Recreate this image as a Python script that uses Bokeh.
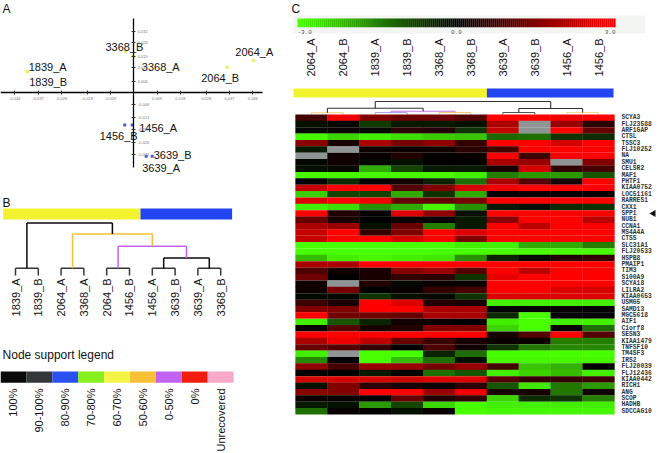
import numpy as np
from math import pi
from bokeh.plotting import figure
from bokeh.layouts import row, column
from bokeh.models import Range1d, LinearAxis, FixedTicker, ColumnDataSource, LinearColorMapper, Label
from bokeh.transform import transform
from bokeh.core.properties import value
from bokeh.embed import file_html
from bokeh.resources import INLINE

FONT = "Liberation Sans"
MONO = "Liberation Mono"

# ---------------- Panel A : PCA scatter ----------------
pca_labels = ["1839_A", "1839_B", "3368_B", "3368_A", "2064_B", "2064_A", "1456_B", "1456_A", "3639_A", "3639_B"]
pca_x = [-0.0412, -0.0410, -0.0032, 0.0000, 0.0361, 0.0462, -0.0035, -0.0006, 0.0048, 0.0071]
pca_y = [0.0111, 0.0109, 0.0216, 0.0190, 0.0133, 0.0168, -0.0168, -0.0168, -0.0330, -0.0330]
pca_group = ["yellow", "yellow", "yellow", "yellow", "yellow", "yellow", "blue", "blue", "blue", "blue"]
pca_xticks = [-0.046, -0.037, -0.028, -0.018, -0.009, 0.009, 0.018, 0.028, 0.037, 0.046]
pca_yticks = [-0.032, -0.026, -0.019, -0.013, -0.006, 0.006, 0.013, 0.019, 0.026, 0.032]

# ---------------- Panel B : sample tree ----------------
tree_leaves = ["1839_A", "1839_B", "2064_A", "3368_A", "2064_B", "1456_B", "1456_A", "3639_B", "3639_A", "3368_B"]
tree_merges = [(0, 1), (2, 3), (4, 5), (6, 7), (8, 9), (13, 14), (12, 15), (11, 16), (10, 17)]
tree_heights = [1.0, 1.0, 1.0, 1.0, 1.0, 2.4, 4.0, 5.7, 7.2]
tree_support = ["90-100%", "90-100%", "90-100%", "90-100%", "90-100%", "100%", "0-50%", "50-60%", "100%"]
group_names = ["yellow", "blue"]
group_counts = [6, 4]

support_labels = ["100%", "90-100%", "80-90%", "70-80%", "60-70%", "50-60%", "0-50%", "0%", "Unrecovered"]
support_colors = ["#0a0a0a", "#343838", "#2a50f2", "#86f01c", "#f4f444", "#f8c034", "#c262f0", "#f01c0c", "#f8a8c8"]

# ---------------- Panel C : heatmap ----------------
heat_samples = ["2064_A", "2064_B", "1839_A", "1839_B", "3368_A", "3368_B", "3639_A", "3639_B", "1456_A", "1456_B"]
genes = ["SCYA3", "FLJ23588", "ARF1GAP", "CTSL", "TSSC3", "FLJ10252", "NA", "SMU1", "CELSR2", "MAF1",
         "PHTF1", "KIAA0752", "LOC51161", "RARRES1", "CXX1", "SPP1", "NUB1", "CCNA1", "MS4A4A", "CTSS",
         "SLC31A1", "FLJ20533", "HSPB8", "PMAIP1", "TIM3", "S100A9", "SCYA18", "LILRA2", "KIAA0653", "USMG5",
         "SAMD13", "MGC5618", "AIF1", "C1orf8", "SESN3", "KIAA1479", "TNFSF10", "TM4SF3", "IRS2", "FLJ20039",
         "FLJ12436", "KIAA0442", "RICH1", "ANG", "SCOP", "HADHB", "SDCCAG10"]
nan = float("nan")
expr_2064_A = [0.8, -0.2, -0.1, -2.9, 1.6, -0.3, nan, -0.1, -0.2, -2.9, 0.0, 2.3, -2.4, 2.6, -2.8, 3.0, 1.2, 2.0, 2.3, 2.3,
               -3.0, -3.0, -2.2, 2.0, 0.9, 1.3, 0.2, 0.2, -0.1, 0.7, 1.5, 3.0, -2.8, 0.0, 3.0, 2.0, 1.2, -2.8, -1.6, 1.7,
               0.0, 2.5, -0.2, 1.6, 0.1, -0.3, -1.3]
expr_2064_B = [2.8, -0.1, 0.1, -2.5, 0.3, nan, 0.2, 0.2, -0.1, -2.9, -0.5, 3.0, -0.8, 3.0, -2.6, 0.4, 0.3, 1.8, 3.0, 3.0,
               -3.0, -3.0, -2.8, 2.0, 0.2, 0.0, nan, 1.4, -0.1, 0.3, 1.5, 1.3, -1.0, 1.0, 3.0, 2.8, 1.0, nan, 0.0, 0.8,
               0.0, 2.5, 1.5, 1.5, 0.1, -0.2, 0.1]
expr_1839_A = [1.5, -0.7, -0.1, -2.8, 2.0, 0.2, 0.1, -0.1, -2.0, -2.9, 0.0, 3.0, -0.8, 2.8, -1.7, 0.0, 0.0, -0.2, 0.6, 3.0,
               -3.0, -3.0, -2.9, 3.0, 0.3, 0.3, 0.4, 0.0, -0.6, 3.0, 3.0, 1.3, -0.4, 0.3, 3.0, 2.2, 0.6, -3.0, -3.0, 1.8,
               -0.3, 2.5, 0.5, 3.0, 0.0, -1.8, 0.0]
expr_1839_B = [1.3, -0.3, 0.5, -2.6, 1.4, 0.1, 0.4, -0.2, -0.8, -2.9, 0.2, 1.0, -2.0, 1.2, -2.0, 2.6, 0.1, 1.2, 1.5, 2.5,
               -3.0, -3.0, -2.8, 3.0, 1.5, 0.6, -0.1, 0.1, -0.2, 2.6, 3.0, 1.2, 0.2, 0.4, 3.0, 1.2, 0.0, -3.0, -2.2, 1.8,
               0.0, 2.4, 0.3, 3.0, 1.2, -0.8, -0.2]
expr_3368_A = [1.3, -0.3, 0.4, -2.4, 1.7, 0.2, 0.0, 0.0, -0.3, -2.9, -0.4, 1.5, -0.6, 1.2, -2.9, 1.7, 0.1, -1.5, 3.0, 3.0,
               -3.0, -3.0, -2.7, 3.0, 1.8, 0.5, 0.1, 0.6, -0.1, 0.4, 2.0, 2.0, 0.1, 1.5, 3.0, 0.7, 0.9, -0.4, -1.3, 1.4,
               -1.3, 2.6, 0.1, 1.8, 0.4, -2.5, 0.1]
expr_3368_B = [1.0, -0.2, -0.6, -2.3, 0.6, 0.5, 0.1, 0.0, -0.3, -2.8, -1.3, 2.5, -2.0, 1.4, -1.7, -0.2, -0.3, -0.3, 2.6, 1.5,
               -2.8, -3.0, -1.7, 3.0, 1.0, -0.6, 0.1, 0.8, -0.6, 0.3, 2.0, 2.0, 0.0, 1.5, 3.0, 0.3, 0.2, -1.3, -0.2, 1.8,
               -1.0, 2.6, 0.5, 2.8, 0.6, -3.0, -3.0]
expr_3639_A = [3.0, 2.0, 2.3, -1.2, 3.0, 0.8, 3.0, 2.0, 0.3, -1.5, 2.0, 2.8, 0.0, 3.0, -0.3, 3.0, 1.6, 3.0, 3.0, 3.0,
               -2.8, -3.0, -0.4, 3.0, 3.0, 2.7, 3.0, 3.0, 2.6, -2.8, 0.0, -0.5, -2.8, -2.5, 0.3, 0.1, -0.6, -3.0, -2.9, 0.8,
               -2.8, 1.0, -1.0, 0.3, -2.5, -2.8, -2.9]
expr_3639_B = [3.0, nan, nan, -1.3, 3.0, 3.0, 0.7, 1.8, 2.5, -1.8, 1.0, 3.0, 0.1, 3.0, -0.2, 3.0, 3.0, 2.2, 3.0, 3.0,
               -2.0, -3.0, -0.1, 3.0, 2.2, 3.0, 3.0, 3.0, 2.6, -2.8, 0.0, -3.0, -3.0, -3.0, 1.0, 0.1, -1.4, -3.0, -2.9, -2.3,
               -2.5, 0.6, -2.7, 0.3, -0.5, -2.8, -2.9]
expr_1456_A = [2.8, 1.8, 3.0, -0.6, 2.5, 3.0, 3.0, nan, 0.6, -1.8, 0.3, 3.0, 0.0, 3.0, -0.5, 3.0, 3.0, 3.0, 3.0, 3.0,
               -2.0, -3.0, 0.4, 3.0, 3.0, 3.0, 3.0, 2.6, 2.6, -2.8, 0.1, 0.0, -2.8, 0.0, 3.0, -1.5, -1.6, -3.0, -2.9, -2.1,
               -2.2, 0.6, -1.4, -1.4, -0.6, -2.8, -2.9]
expr_1456_B = [3.0, 0.5, 1.2, -0.5, 3.0, 3.0, 3.0, 1.5, 0.8, -1.0, 3.0, 3.0, 0.1, 3.0, -0.6, 3.0, 2.2, 3.0, 3.0, 3.0,
               -1.5, -3.0, 0.6, 3.0, 3.0, 3.0, 3.0, 2.5, 2.6, -2.8, 0.0, 0.0, -2.8, -1.3, 1.0, -1.5, -1.6, -3.0, -2.9, 0.0,
               -2.8, 0.7, -1.8, 0.2, -1.5, -2.8, -2.9]
heat_columns = [expr_2064_A, expr_2064_B, expr_1839_A, expr_1839_B, expr_3368_A, expr_3368_B,
                expr_3639_A, expr_3639_B, expr_1456_A, expr_1456_B]
heat_group = ["yellow"] * 6 + ["blue"] * 4
heat_merges = [(0, 1), (2, 3), (4, 5), (11, 12), (10, 13), (6, 7), (8, 9), (15, 16), (14, 17)]
heat_heights = [0.27, 0.31, 0.31, 0.52, 0.99, 0.31, 0.31, 0.94, 2.04]
heat_link_colors = ["#f4c878", "#a8a8f0", "#f4c878", "#c878e8", "#333333", "#555555", "#f4d890", "#333333", "#333333"]
scale_ticks = [-3.0, 0.0, 3.0]

GROUP_COLORS = {"yellow": "#f2f22e", "blue": "#2244f2"}
PCA_COLORS = {"yellow": "#eeee66", "blue": "#4a5ad8"}


def base_fig(w, h, xr, yr, xtype=None, ytype=None):
    p = figure(width=w, height=h, x_range=xr, y_range=yr, x_axis_type=xtype, y_axis_type=ytype,
               toolbar_location=None, output_backend="svg", min_border=0)
    p.outline_line_color = None
    p.background_fill_color = "white"
    p.border_fill_color = "white"
    return p


def letter(p, txt, x, y):
    p.add_layout(Label(x=x, y=y, x_units="screen", y_units="screen", text=txt,
                       text_font=FONT, text_font_size="12px", text_color="#111111",
                       text_baseline="middle"))


def dendro(merges, heights, colors, n, leaf_x, sign):
    pos = {i: (leaf_x(i), 0.0) for i in range(n)}
    xs0, ys0, xs1, ys1, cs = [], [], [], [], []
    for k, ((a, b), h, c) in enumerate(zip(merges, heights, colors)):
        xa, ha = pos[a]
        xb, hb = pos[b]
        for seg in [(xa, ha, xa, h), (xa, h, xb, h), (xb, hb, xb, h)]:
            xs0.append(seg[0]); ys0.append(sign * seg[1]); xs1.append(seg[2]); ys1.append(sign * seg[3]); cs.append(c)
        pos[n + k] = ((xa + xb) / 2.0, h)
    return ColumnDataSource(dict(x0=xs0, y0=ys0, x1=xs1, y1=ys1, c=cs))


# ================= Panel A =================
WA, HA = 287, 190
pA = base_fig(WA, HA, Range1d(-0.0515, 0.0594), Range1d(-0.0508, 0.0480))


def fmt(t):
    return ("%.3f" % t).replace(".", ",")


xa = LinearAxis(fixed_location=0, ticker=FixedTicker(ticks=pca_xticks),
                major_label_overrides={t: fmt(t) for t in pca_xticks}, bounds=(-0.0515, 0.0497))
ya = LinearAxis(fixed_location=0, ticker=FixedTicker(ticks=pca_yticks),
                major_label_overrides={t: fmt(t) for t in pca_yticks}, bounds=(-0.0388, 0.0386))
for ax in (xa, ya):
    ax.axis_line_color = "#000000"
    ax.axis_line_width = 1.3
    ax.major_tick_in = 2
    ax.major_tick_out = 2
    ax.major_tick_line_color = "#333333"
    ax.minor_tick_line_color = None
    ax.major_label_text_font = FONT
    ax.major_label_text_font_size = "4px"
    ax.major_label_text_color = "#777777"
    ax.major_label_standoff = 2
pA.add_layout(xa, "below")
pA.add_layout(ya, "right")

srcA = ColumnDataSource(dict(x=pca_x, y=pca_y, label=pca_labels,
                             color=[PCA_COLORS[g] for g in pca_group],
                             dx=[1.5, 1.5, -20, 8, -26, -18, -25, 7, -4, 1.5],
                             dy=[-4, 10, -4, 11, 11, -9, 11, 3, 12, -1.5]))
pA.scatter("x", "y", source=srcA, marker="square", size=3, fill_color="color", line_color=None)
pA.text("x", "y", text="label", source=srcA, x_offset="dx", y_offset="dy",
        text_font=value(FONT), text_font_size="11px", text_align="left", text_baseline="middle",
        text_color="#111111")
letter(pA, "A", 2, HA - 8)

# ================= Panel B =================
WB, HB = 287, 130
pB = base_fig(WB, HB, Range1d(-0.658, 11.93), Range1d(-6.16, 11.64))
bar_left, bar_w = -0.54, 10.04
tot = float(sum(group_counts))
lefts, rights, cols = [], [], []
acc = 0.0
for g, c in zip(group_names, group_counts):
    lefts.append(bar_left + bar_w * acc / tot)
    acc += c
    rights.append(bar_left + bar_w * acc / tot)
    cols.append(GROUP_COLORS[g])
pB.quad(left=lefts, right=rights, bottom=7.67, top=9.18, fill_color=cols, line_color=None)
sup_col = dict(zip(support_labels, support_colors))
srcB = dendro(tree_merges, tree_heights, [sup_col[s] for s in tree_support], len(tree_leaves), lambda i: float(i), 1.0)
pB.segment("x0", "y0", "x1", "y1", source=srcB, line_color="c", line_width=1.5)
pB.text(x=list(range(len(tree_leaves))), y=[-0.41] * len(tree_leaves), text=tree_leaves, angle=pi / 2,
        text_font=value(FONT), text_font_size="11px", text_align="right", text_baseline="middle",
        text_color="#111111")
letter(pB, "B", 2, HB - 12)

# ================= Legend =================
WL, HL = 287, 133
pL = base_fig(WL, HL, Range1d(0, 11.08), Range1d(453, 320))
idx = list(range(len(support_labels)))
pL.quad(left=idx, right=[i + 1 for i in idx], top=371, bottom=382.3, fill_color=support_colors, line_color=None)
pL.text(x=[i + 0.5 for i in idx], y=[388] * len(idx), text=support_labels, angle=pi / 2,
        text_font=value(FONT), text_font_size="11px", text_align="right", text_baseline="middle",
        text_color="#111111")
pL.text(x=[0.08], y=[354.5], text=["Node support legend"], text_font=value(FONT), text_font_size="12px",
        text_align="left", text_baseline="middle", text_color="#111111")

# ================= Panel C =================
WC, HC = 375, 453
pC = base_fig(WC, HC, Range1d(-0.251, 11.505), Range1d(53.11, -17.86))


def cx(xref):
    return (xref - 295.0) / 31.9


def ry(yref):
    return (yref - 114.0) / 6.383


def gbr_palette(n=256):
    out = []
    for t in np.linspace(-1, 1, n):
        if t < 0:
            r, g, b = 72 * (-t), 255 * (-t), 0
        else:
            r, g, b = 255 * t, 0, 0
        out.append("#%02x%02x%02x" % (int(round(r)), int(round(g)), int(round(b))))
    return out


mapper = LinearColorMapper(palette=gbr_palette(), low=-3, high=3, nan_color="#8f9595")

# colour scale
pC.quad(left=[cx(293)], right=[cx(645)], top=[ry(15)], bottom=[ry(33)], fill_color="#f3f5f3", line_color=None)
nstep = 160
sv = np.linspace(scale_ticks[0], scale_ticks[-1], nstep)
x0s, x1s = cx(297), cx(615)
edges = np.linspace(x0s, x1s, nstep + 1)
srcS = ColumnDataSource(dict(l=edges[:-1], r=edges[1:] + 0.004, v=sv))
pC.quad(left="l", right="r", top=ry(18), bottom=ry(26.7), source=srcS,
        fill_color=transform("v", mapper), line_color=None)
tick_x = [x0s + (t - scale_ticks[0]) / (scale_ticks[-1] - scale_ticks[0]) * (x1s - x0s) for t in scale_ticks]
pC.text(x=tick_x, y=[ry(31.5)] * 3, text=["%.1f" % t for t in scale_ticks],
        text_align=["left", "center", "right"], text_baseline="middle",
        text_font=value(MONO), text_font_size="6px", text_color="#555555")

# column labels
ncol = len(heat_samples)
pC.text(x=[i + 0.5 for i in range(ncol)], y=[ry(38)] * ncol, text=heat_samples, angle=pi / 2,
        text_font=value(FONT), text_font_size="11px", text_align="right", text_baseline="middle",
        text_color="#111111")

# group bar
gl, gr, gc = [], [], []
start = -0.06
for i, g in enumerate(heat_group):
    if i == 0 or heat_group[i - 1] != g:
        gl.append(start if i == 0 else float(i)); gc.append(GROUP_COLORS[g])
        if i > 0:
            gr.append(float(i))
gr.append(float(ncol) - 0.03)
pC.quad(left=gl, right=gr, top=ry(88), bottom=ry(97), fill_color=gc, line_color=None)

# dendrogram
srcD = dendro(heat_merges, heat_heights, heat_link_colors, ncol, lambda i: i + 0.5, -1.0)
pC.segment("x0", "y0", "x1", "y1", source=srcD, line_color="c", line_width=1.1)

# heat cells
hx, hy, hv = [], [], []
for ci, colvals in enumerate(heat_columns):
    for ri, v in enumerate(colvals):
        hx.append(ci + 0.5); hy.append(ri + 0.5); hv.append(v)
srcH = ColumnDataSource(dict(x=hx, y=hy, v=hv))
pC.rect("x", "y", width=1.01, height=1.02, source=srcH, fill_color=transform("v", mapper), line_color=None)

# gene labels
ng = len(genes)
pC.text(x=[cx(621)] * ng, y=[r + 0.5 for r in range(ng)], text=genes, text_font=value(MONO),
        text_font_size="6.3px", text_font_style="bold", text_align="left", text_baseline="middle",
        text_color="#333333")
spp = genes.index("SPP1")
pC.scatter(x=[cx(653)], y=[spp + 0.5], marker="triangle", size=7, angle=pi / 2,
           fill_color="#111111", line_color=None)
letter(pC, "C", 4, HC - 8)

layout = row(column(pA, pB, pL), pC)
open("out.html", "w").write(file_html(layout, INLINE))
